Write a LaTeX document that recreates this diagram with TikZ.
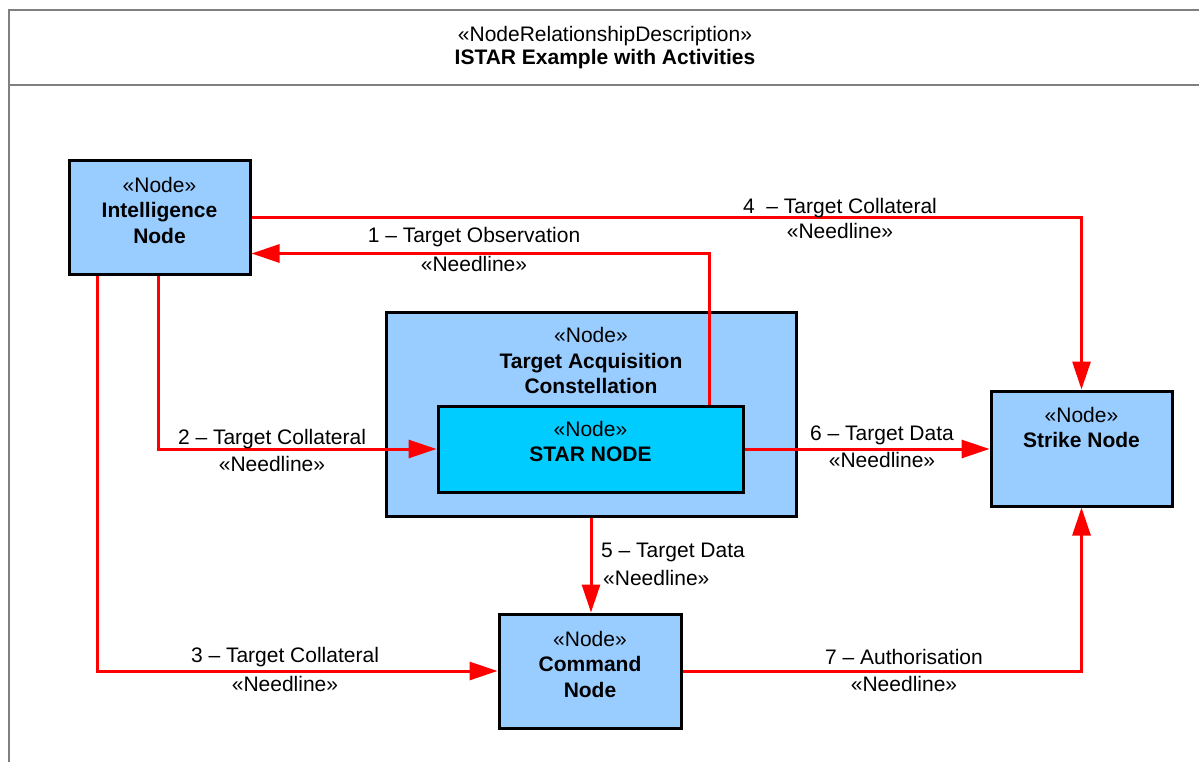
\documentclass[tikz,border=0pt]{standalone}
\usepackage{fontspec}
\setmainfont{Liberation Sans}
\usetikzlibrary{arrows.meta,calc}
\definecolor{nodeblue}{HTML}{99CCFF}
\definecolor{starcyan}{HTML}{00CCFF}
\definecolor{framegray}{HTML}{808080}
\definecolor{needred}{HTML}{FF0000}
\tikzset{
  nodebox/.style={draw=black, line width=3pt, fill=nodeblue, rectangle, inner sep=0pt},
  txt/.style={font=\fontsize{21}{25.5}\selectfont, align=center, inner sep=0pt},
  needline/.style={draw=needred, line width=3pt, -{Triangle[length=28pt,width=18pt]}},
}
\begin{document}
\begin{tikzpicture}[x=1pt,y=-1pt]
\useasboundingbox (0,0) rectangle (1199,762);
% frame
\draw[framegray, line width=2pt] (9,790) -- (9,10) -- (1230,10);
\draw[framegray, line width=1.5pt] (9,85) -- (1230,85);
\node[txt] (t1) at (605,36) {«NodeRelationshipDescription»};
\node[txt, font=\fontsize{21}{25.5}\selectfont\bfseries] (t2) at (605,59) {ISTAR Example with Activities};

% boxes
\node[nodebox, minimum width=181pt, minimum height=113pt] (int) at (159.5,217.5) {};
\node[txt] (intt) at (159.5,210) {«Node»\\\textbf{Intelligence}\\\textbf{Node}};

\node[nodebox, minimum width=410pt, minimum height=204pt] (tac) at (591,414) {};
\node[txt] (tact) at (591,360.5) {«Node»\\\textbf{Target Acquisition}\\\textbf{Constellation}};

\node[nodebox, fill=starcyan, minimum width=305pt, minimum height=86pt] (star) at (590.5,449) {};
\node[txt] (start) at (590.5,441.5) {«Node»\\\textbf{STAR NODE}};

\node[nodebox, minimum width=181pt, minimum height=115pt] (strike) at (1081.5,448.5) {};
\node[txt] (strikt) at (1081.5,427.5) {«Node»\\\textbf{Strike Node}};

\node[nodebox, minimum width=182pt, minimum height=114pt] (cmd) at (590,671) {};
\node[txt] (cmdt) at (590,664) {«Node»\\\textbf{Command}\\\textbf{Node}};

% connectors
\draw[needline] ([xshift=273pt]star.north west) |- ([yshift=22pt]int.south east);
\draw[needline] ([xshift=91pt]int.south west) |- (star.west);
\draw[needline] ([xshift=30pt]int.south west) |- (cmd.west);
\draw[needline] (int.east) -| (strike.north);
\draw[needline] (tac.south) -- (tac.south |- cmd.north);
\draw[needline] (star.east) -- (star.east -| strike.west);
\draw[needline] (cmd.east) -| (strike.south);

% labels
\node[txt] (l1a) at (474,237) {1 – Target Observation};
\node[txt] (l1b) at (474,264) {«Needline»};
\node[txt] (l2a) at (272,439) {2 – Target Collateral};
\node[txt] (l2b) at (272,464) {«Needline»};
\node[txt] (l3a) at (285,657) {3 – Target Collateral};
\node[txt] (l3b) at (285,684) {«Needline»};
\node[txt] (l4a) at (840,208) {4\ \ – Target Collateral};
\node[txt] (l4b) at (840,231) {«Needline»};
\node[txt, anchor=west] (l5a) at (601,552) {5 – Target Data};
\node[txt, anchor=west] (l5b) at (603,578) {«Needline»};
\node[txt] (l6a) at (882,435) {6 – Target Data};
\node[txt] (l6b) at (882,460) {«Needline»};
\node[txt] (l7a) at (904,657) {7 – Authorisation};
\node[txt] (l7b) at (904,684) {«Needline»};
\end{tikzpicture}
\end{document}
